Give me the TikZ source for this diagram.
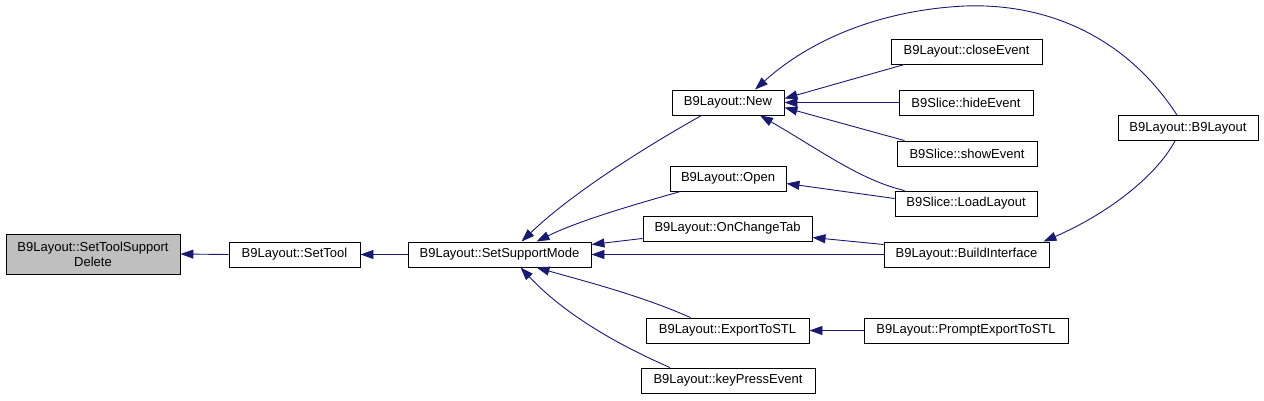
\documentclass[tikz,border=0pt]{standalone}
\usepackage{fontspec}
\setmainfont{Liberation Sans}
\usetikzlibrary{arrows.meta}
\definecolor{edgeblue}{HTML}{191970}
\definecolor{rootgray}{HTML}{BFBFBF}
\begin{document}
\begin{tikzpicture}[x=1bp,y=-1bp,
  box/.style={draw=black, line width=0.9bp, fill=white, rectangle, inner sep=0pt,
    minimum height=25bp, font=\fontsize{13bp}{15bp}\selectfont, text=black},
  rootbox/.style={box, fill=rootgray, minimum height=40bp, align=center},
  edge/.style={draw=edgeblue, line width=0.9bp, -{Triangle[length=13bp,width=9bp]}}]
\useasboundingbox (0,0) rectangle (1264,400);

% nodes
\node[rootbox, minimum width=174bp] (del) at (93,254) {B9Layout::SetToolSupport\\Delete};
\node[box, minimum width=131bp] (settool) at (294.5,254.5) {B9Layout::SetTool};
\node[box, minimum width=183bp] (ssm) at (499.5,254.5) {B9Layout::SetSupportMode};
\node[box, minimum width=112bp] (new) at (728,102.5) {B9Layout::New};
\node[box, minimum width=116bp] (open) at (728,178.5) {B9Layout::Open};
\node[box, minimum width=169bp] (oct) at (727.5,228.5) {B9Layout::OnChangeTab};
\node[box, minimum width=163bp] (exp) at (727.5,330.5) {B9Layout::ExportToSTL};
\node[box, minimum width=174bp] (key) at (728,380.5) {B9Layout::keyPressEvent};
\node[box, minimum width=151bp] (close) at (966.5,51.5) {B9Layout::closeEvent};
\node[box, minimum width=134bp] (hide) at (966,102.5) {B9Slice::hideEvent};
\node[box, minimum width=140bp] (show) at (967,153.5) {B9Slice::showEvent};
\node[box, minimum width=142bp] (load) at (966,203.5) {B9Slice::LoadLayout};
\node[box, minimum width=165bp] (build) at (966.5,254.5) {B9Layout::BuildInterface};
\node[box, minimum width=204bp] (prompt) at (966,330.5) {B9Layout::PromptExportToSTL};
\node[box, minimum width=140bp] (b9) at (1188,128) {B9Layout::B9Layout};

% edges
\draw[edge] ([xshift=-11bp]b9.north) .. controls (1125,35) and (1045,3) .. (965,6)
  .. controls (880,10) and (810,40) .. ([xshift=27bp]new.north);
\draw[edge] ([xshift=-13bp]b9.south) .. controls (1155,178) and (1105,215) .. ([xshift=-6bp]build.north east);
\draw[edge] ([xshift=30bp]new.south west) .. controls (640,150) and (570,195) .. ([xshift=22bp]ssm.north);
\draw[edge] ([xshift=11bp]open.south west) .. controls (640,203) and (580,220) .. ([xshift=37bp]ssm.north);
\draw[edge] ([yshift=3bp]oct.south west) -- ([yshift=10bp]ssm.east);
\draw[edge] (build.west) -- (ssm.east);
\draw[edge] ([xshift=-37bp]exp.north) .. controls (640,295) and (580,280) .. ([xshift=37bp]ssm.south);
\draw[edge] ([xshift=-58bp]key.north) .. controls (630,350) and (570,320) .. ([xshift=21bp]ssm.south);
\draw[edge] ([xshift=14bp]close.south west) -- ([yshift=4bp]new.east);
\draw[edge] (hide.west) -- (new.east);
\draw[edge] ([xshift=8bp]show.north west) -- ([yshift=-5bp]new.east);
\draw[edge] ([xshift=10bp]load.north west) .. controls (860,180) and (820,150) .. ([xshift=32bp]new.south);
\draw[edge] ([yshift=5bp]load.west) -- ([yshift=-5bp]open.east);
\draw[edge] ([yshift=10bp]build.west) -- ([yshift=-9bp]oct.east);
\draw[edge] (prompt.west) -- (exp.east);
\draw[edge] (ssm.west) -- (settool.east);
\draw[edge] (settool.west) -- (del.east);
\end{tikzpicture}
\end{document}
